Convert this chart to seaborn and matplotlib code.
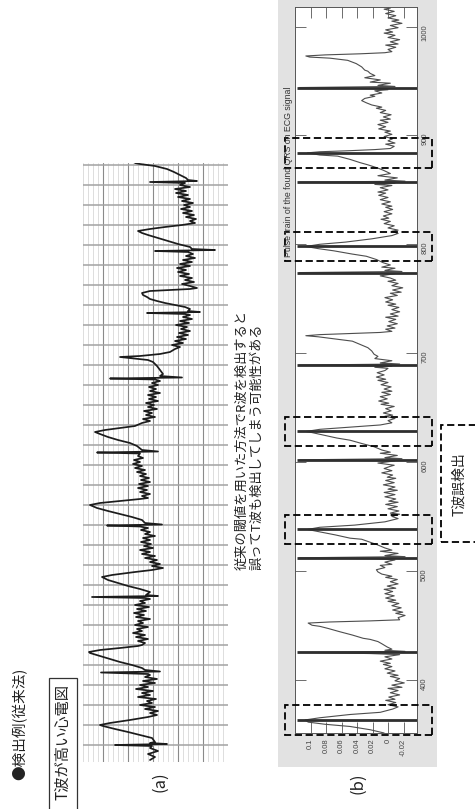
import matplotlib
matplotlib.use("Agg")
import numpy as np
import matplotlib.pyplot as plt
from matplotlib.patches import Rectangle
import seaborn as sns

# ---------------------------------------------------------------------------
# (a) ECG with tall T waves: time [s] and amplitude [mV]
# ---------------------------------------------------------------------------
ecg_a_time_s = [
    0.05, 0.08, 0.11, 0.14, 0.17, 0.19, 0.20, 0.21, 0.22, 0.23,
    0.27, 0.30, 0.33, 0.36, 0.39, 0.40, 0.42, 0.45, 0.48, 0.50,
    0.52, 0.54, 0.56, 0.58, 0.60, 0.62, 0.64, 0.66, 0.68, 0.70,
    0.72, 0.74, 0.76, 0.78, 0.80, 0.82, 0.84, 0.86, 0.88, 0.90,
    0.91, 0.925, 0.935, 0.95, 0.97, 1.00, 1.03, 1.06, 1.09, 1.12,
    1.13, 1.15, 1.17, 1.19, 1.20, 1.22, 1.24, 1.26, 1.28, 1.30,
    1.32, 1.34, 1.36, 1.38, 1.40, 1.42, 1.44, 1.46, 1.48, 1.50,
    1.52, 1.54, 1.56, 1.58, 1.60, 1.62, 1.64, 1.66, 1.67, 1.68,
    1.69, 1.70, 1.73, 1.76, 1.79, 1.82, 1.85, 1.88, 1.90, 1.93,
    1.95, 1.97, 1.99, 2.01, 2.03, 2.05, 2.07, 2.09, 2.11, 2.13,
    2.15, 2.17, 2.19, 2.21, 2.23, 2.25, 2.27, 2.29, 2.31, 2.33,
    2.35, 2.37, 2.385, 2.395, 2.405, 2.42, 2.45, 2.48, 2.51, 2.54,
    2.57, 2.60, 2.62, 2.64, 2.66, 2.67, 2.69, 2.71, 2.73, 2.75,
    2.77, 2.79, 2.81, 2.83, 2.85, 2.87, 2.89, 2.91, 2.93, 2.95,
    2.97, 2.99, 3.01, 3.03, 3.05, 3.07, 3.09, 3.115, 3.125, 3.135,
    3.15, 3.19, 3.22, 3.25, 3.28, 3.31, 3.33, 3.35, 3.37, 3.39,
    3.42, 3.44, 3.46, 3.48, 3.50, 3.52, 3.54, 3.56, 3.58, 3.60,
    3.62, 3.64, 3.66, 3.68, 3.70, 3.72, 3.74, 3.76, 3.78, 3.80,
    3.82, 3.84, 3.855, 3.865, 3.875, 3.89, 3.91, 3.95, 3.99, 4.03,
    4.05, 4.07, 4.08, 4.09, 4.11, 4.13, 4.16, 4.18, 4.20, 4.22,
    4.24, 4.26, 4.28, 4.30, 4.32, 4.34, 4.36, 4.38, 4.40, 4.42,
    4.44, 4.46, 4.48, 4.50, 4.51, 4.52, 4.53, 4.54, 4.56, 4.58,
    4.60, 4.62, 4.64, 4.66, 4.68, 4.70, 4.72, 4.74, 4.75, 4.76,
    4.77, 4.79, 4.81, 4.83, 4.85, 4.87, 4.89, 4.91, 4.93, 4.95,
    4.97, 4.99, 5.01, 5.03, 5.05, 5.07, 5.09, 5.11, 5.13, 5.14,
    5.15, 5.16, 5.18, 5.21, 5.24, 5.27, 5.30, 5.32, 5.34, 5.36,
    5.38, 5.40, 5.42, 5.44, 5.46, 5.48, 5.50, 5.52, 5.54, 5.56,
    5.58, 5.60, 5.62, 5.64, 5.66, 5.68, 5.70, 5.72, 5.74, 5.76,
    5.78, 5.80, 5.82, 5.83, 5.84, 5.85, 5.87, 5.90, 5.93, 5.96,
    5.99, 6.01, 6.02,
]
ecg_a_mv = [
    0.06, -0.04, 0.10, -0.10, 0.06, 0.02, 0.76, -0.28, 0.06, -0.04,
    0.02, 0.26, 0.50, 0.76, 1.00, 1.06, 0.86, 0.46, 0.10, -0.08,
    0.06, -0.10, 0.16, -0.04, 0.26, 0.02, 0.12, -0.06, 0.30, 0.06,
    0.22, 0.00, 0.34, 0.10, 0.26, -0.04, 0.20, -0.08, 0.16, 0.06,
    0.10, 1.04, -0.14, 0.16, 0.22, 0.42, 0.66, 0.86, 1.06, 1.26,
    1.28, 1.06, 0.66, 0.30, 0.22, 0.16, 0.30, 0.10, 0.34, 0.16,
    0.40, 0.22, 0.32, 0.10, 0.36, 0.20, 0.30, 0.06, 0.34, 0.18,
    0.38, 0.14, 0.32, 0.08, 0.36, 0.16, 0.26, 0.06, 0.16, 1.22,
    -0.10, 0.14, 0.06, 0.26, 0.50, 0.70, 0.90, 1.02, 0.82, 0.36,
    0.02, -0.20, 0.02, -0.14, 0.06, -0.08, 0.16, -0.04, 0.22, 0.06,
    0.26, 0.00, 0.18, 0.04, 0.24, 0.06, 0.20, -0.04, 0.16, 0.06,
    0.24, 0.10, 0.26, 0.92, -0.18, 0.16, 0.22, 0.42, 0.66, 0.90,
    1.12, 1.26, 1.06, 0.66, 0.26, 0.10, 0.22, 0.06, 0.26, 0.12,
    0.30, 0.10, 0.28, 0.06, 0.24, 0.08, 0.26, 0.14, 0.32, 0.16,
    0.36, 0.22, 0.40, 0.26, 0.38, 0.20, 0.30, 0.26, 1.12, -0.10,
    0.22, 0.32, 0.46, 0.70, 0.90, 1.06, 1.16, 0.96, 0.66, 0.36,
    0.22, 0.06, 0.20, -0.04, 0.14, 0.02, 0.18, -0.08, 0.10, -0.02,
    0.14, -0.10, 0.08, -0.06, 0.10, -0.14, 0.06, -0.06, 0.08, -0.10,
    0.02, -0.14, -0.04, 0.86, -0.58, -0.14, -0.20, -0.14, -0.08, 0.00,
    0.10, 0.46, 0.66, 0.26, -0.14, -0.34, -0.44, -0.54, -0.38, -0.60,
    -0.44, -0.66, -0.48, -0.70, -0.52, -0.74, -0.56, -0.68, -0.46, -0.72,
    -0.54, -0.78, -0.60, -0.74, -0.64, 0.12, -0.94, -0.70, -0.74, -0.64,
    -0.44, -0.24, -0.08, 0.06, 0.12, 0.20, 0.22, 0.06, -0.34, -0.74,
    -0.88, -0.74, -0.58, -0.82, -0.64, -0.78, -0.54, -0.72, -0.50, -0.66,
    -0.48, -0.74, -0.54, -0.78, -0.60, -0.84, -0.66, -0.80, -0.70, -0.04,
    -1.24, -0.78, -0.74, -0.50, -0.30, -0.10, 0.10, 0.22, 0.30, 0.06,
    -0.24, -0.58, -0.84, -0.74, -0.86, -0.66, -0.82, -0.60, -0.78, -0.56,
    -0.74, -0.62, -0.80, -0.58, -0.74, -0.50, -0.70, -0.46, -0.66, -0.44,
    -0.74, -0.54, -0.64, 0.06, -0.88, -0.70, -0.66, -0.54, -0.42, -0.28,
    -0.04, 0.26, 0.36,
]

# ---------------------------------------------------------------------------
# (b) ECG signal (sample index, amplitude) and the detected pulse train
# ---------------------------------------------------------------------------
ecg_b_sample = [
    351, 354, 357, 359, 361, 363, 365, 368, 370, 373,
    375, 377, 379, 381, 382, 384, 386, 388, 390, 392,
    393, 395, 397, 399, 401, 403, 404, 406, 408, 410,
    412, 414, 415, 417, 419, 421, 423, 424, 425, 426,
    427, 428, 430, 433, 435, 437, 438, 441, 444, 447,
    449, 450, 452, 453, 454, 455, 457, 459, 461, 462,
    464, 466, 468, 470, 472, 473, 475, 477, 479, 481,
    483, 484, 486, 488, 490, 492, 494, 495, 497, 499,
    501, 503, 505, 506, 508, 510, 511, 512, 513, 514,
    516, 518, 519, 521, 524, 527, 529, 530, 533, 536,
    538, 540, 542, 545, 548, 550, 552, 553, 555, 557,
    559, 561, 563, 564, 566, 568, 570, 572, 574, 575,
    577, 579, 581, 583, 585, 586, 588, 590, 592, 594,
    596, 597, 599, 601, 602, 603, 604, 606, 608, 609,
    611, 614, 617, 620, 622, 625, 627, 628, 630, 632,
    634, 636, 638, 640, 642, 643, 645, 647, 649, 651,
    653, 654, 656, 658, 660, 662, 664, 665, 667, 669,
    671, 673, 675, 676, 678, 680, 682, 684, 686, 687,
    688, 689, 690, 691, 693, 695, 697, 699, 702, 705,
    708, 711, 713, 715, 716, 717, 718, 719, 720, 722,
    723, 725, 727, 729, 731, 733, 734, 736, 738, 740,
    742, 744, 745, 747, 749, 751, 753, 755, 756, 758,
    760, 762, 764, 766, 767, 769, 771, 773, 774, 775,
    776, 778, 779, 781, 783, 786, 789, 791, 794, 796,
    798, 800, 802, 805, 808, 810, 812, 813, 815, 817,
    819, 821, 823, 824, 826, 828, 830, 832, 834, 835,
    837, 839, 841, 843, 845, 847, 848, 850, 852, 854,
    855, 856, 857, 858, 859, 861, 863, 865, 868, 870,
    873, 875, 878, 881, 882, 884, 885, 886, 887, 888,
    890, 892, 893, 895, 897, 899, 901, 903, 904, 906,
    908, 910, 912, 914, 915, 917, 919, 921, 923, 925,
    926, 928, 930, 932, 934, 936, 937, 939, 941, 942,
    943, 944, 945, 946, 948, 949, 951, 953, 955, 957,
    959, 960, 963, 966, 969, 971, 972, 973, 974, 975,
    976, 977, 979, 981, 983, 984, 986, 988, 990, 992,
    994, 995, 997, 999, 1001, 1003, 1005, 1006, 1008, 1010,
    1012, 1014, 1016, 1017,
]
ecg_b_amp = [
    0.005, 0.023, 0.049, 0.081, 0.103, 0.107, 0.088, 0.049, 0.010, -0.006,
    -0.013, 0.000, -0.010, 0.003, -0.009, -0.001, -0.015, -0.003, -0.013, 0.000,
    -0.018, -0.005, -0.021, -0.009, -0.015, -0.003, -0.013, 0.001, -0.009, 0.004,
    -0.005, 0.006, -0.003, 0.010, -0.005, 0.004, -0.015, 0.023, 0.114, -0.022,
    0.004, -0.005, 0.001, 0.008, 0.013, 0.023, 0.032, 0.046, 0.062, 0.077,
    0.088, 0.098, 0.103, 0.075, 0.023, -0.015, -0.013, -0.022, -0.010, -0.019,
    -0.006, -0.017, -0.005, -0.014, 0.000, -0.010, 0.003, -0.008, 0.004, -0.006,
    0.005, -0.010, 0.001, -0.013, -0.003, -0.012, 0.003, -0.005, 0.008, 0.013,
    0.015, 0.004, 0.010, -0.005, 0.004, -0.009, 0.017, 0.114, -0.022, 0.004,
    -0.013, 0.010, -0.005, 0.004, 0.014, 0.026, 0.034, 0.049, 0.068, 0.090,
    0.104, 0.088, 0.043, 0.004, -0.013, -0.005, -0.015, -0.003, -0.014, 0.000,
    -0.012, 0.003, -0.013, -0.001, -0.010, 0.004, -0.009, 0.005, -0.012, 0.000,
    -0.009, 0.006, -0.008, 0.003, -0.010, 0.001, -0.006, 0.008, -0.005, 0.005,
    -0.003, -0.008, 0.013, -0.009, 0.114, -0.018, 0.004, -0.012, 0.010, -0.003,
    0.008, 0.018, 0.034, 0.049, 0.066, 0.085, 0.098, 0.106, 0.088, 0.049,
    0.010, -0.005, 0.000, -0.009, 0.004, -0.006, 0.006, -0.004, 0.003, -0.008,
    0.009, -0.001, 0.012, 0.001, 0.010, -0.003, 0.008, -0.005, 0.005, -0.004,
    0.009, 0.000, 0.013, 0.003, 0.015, 0.005, 0.014, 0.004, 0.000, 0.017,
    -0.005, 0.114, -0.015, 0.010, -0.005, 0.017, 0.013, 0.018, 0.021, 0.026,
    0.036, 0.046, 0.068, 0.090, 0.106, 0.088, 0.049, 0.010, -0.005, 0.003,
    -0.009, 0.001, -0.012, -0.001, -0.010, 0.003, -0.013, -0.003, -0.015, -0.005,
    -0.014, 0.000, -0.010, 0.003, -0.006, 0.004, -0.012, -0.003, -0.017, -0.006,
    -0.019, -0.005, -0.013, 0.000, -0.010, -0.003, 0.010, -0.009, 0.114, -0.018,
    0.004, -0.009, 0.008, -0.003, 0.006, 0.015, 0.028, 0.046, 0.070, 0.090,
    0.106, 0.088, 0.055, 0.021, -0.005, -0.013, -0.005, -0.013, 0.000, -0.008,
    0.005, -0.003, 0.009, -0.001, 0.006, -0.005, 0.005, -0.006, 0.003, -0.005,
    0.008, -0.003, 0.010, 0.000, 0.012, 0.003, 0.013, 0.000, 0.010, -0.005,
    0.017, -0.009, 0.114, -0.022, 0.004, -0.012, 0.013, -0.003, 0.006, 0.013,
    0.026, 0.036, 0.049, 0.065, 0.088, 0.104, 0.088, 0.049, 0.017, -0.003,
    -0.008, 0.003, -0.009, 0.000, -0.006, 0.005, -0.005, 0.004, -0.003, 0.012,
    0.003, 0.013, 0.000, 0.010, -0.003, 0.006, -0.004, 0.010, 0.003, 0.015,
    0.008, 0.021, 0.028, 0.034, 0.030, 0.017, 0.023, 0.008, 0.017, 0.000,
    0.021, 0.114, -0.009, 0.013, -0.003, 0.023, 0.010, 0.030, 0.017, 0.023,
    0.026, 0.030, 0.034, 0.041, 0.052, 0.075, 0.101, 0.106, 0.081, 0.036,
    0.004, -0.005, 0.000, -0.010, 0.003, -0.013, -0.003, -0.015, 0.000, -0.009,
    0.005, -0.006, 0.003, -0.013, -0.003, -0.018, -0.005, -0.014, 0.000, -0.010,
    0.003, -0.008, 0.005, -0.003,
]

# detected pulses: true R peaks and T waves taken as R peaks by mistake
r_pulse_samples = [425, 512, 602, 689, 774, 857, 944]
t_pulse_samples = [363, 538, 628, 798, 884]
pulse_level = 0.117

time_ticks = [400, 500, 600, 700, 800, 900, 1000]
amp_ticks = [-0.02, 0.0, 0.02, 0.04, 0.06, 0.08, 0.1]
amp_tick_labels = ["-0.02", "0", "0.02", "0.04", "0.06", "0.08", "0.1"]

# ---------------------------------------------------------------------------
sns.set_theme(style="white")
plt.rcParams["font.family"] = ["Noto Sans CJK JP", "DejaVu Sans"]

W, H = 475, 809
fig = plt.figure(figsize=(W / 100, H / 100), dpi=100)
fig.patch.set_facecolor("white")


def fx(px):
    return px / W


def fy(py):
    return 1 - py / H


# ---------------- panel (a): chart paper ----------------
ax_a = fig.add_axes([fx(83), fy(762), (228 - 83) / W, (762 - 163) / H])
ax_a.set_facecolor("white")
ax_a.set_xlim(1.40, -1.50)
ax_a.set_ylim(0.03, 6.02)
for v in np.arange(-1.5, 1.45, 0.1):
    ax_a.axvline(v, color="#d0d0d0", lw=0.5, zorder=0)
for v in np.arange(-1.0, 1.05, 0.5):
    ax_a.axvline(v, color="#8a8a8a", lw=0.8, zorder=0.5)
for t in np.arange(0.2, 6.01, 0.2):
    ax_a.axhline(t, color="#a2a2a2", lw=1.1, zorder=0.5)
sns.lineplot(x=ecg_a_mv, y=ecg_a_time_s, sort=False, estimator=None,
             color="#1c1c1c", lw=1.25, ax=ax_a, legend=False, zorder=3)
ax_a.set_xlabel("")
ax_a.set_ylabel("")
ax_a.set_xticks([])
ax_a.set_yticks([])
for s in ax_a.spines.values():
    s.set_visible(False)

# ---------------- panel (b): signal with pulse train ----------------
fig.add_artist(Rectangle((fx(278), fy(767)), (437 - 278) / W, 767 / H,
                         transform=fig.transFigure, facecolor="#e2e2e2",
                         edgecolor="none", zorder=0))
ax_b = fig.add_axes([fx(295), fy(733), (417 - 295) / W, (733 - 7) / H])
ax_b.set_facecolor("white")
sns.lineplot(x=ecg_b_amp, y=ecg_b_sample, sort=False, estimator=None,
             color="#4d4d4d", lw=0.8, ax=ax_b, legend=False, zorder=2)
ax_b.hlines(r_pulse_samples + t_pulse_samples, -0.05, pulse_level,
            color="#2f2f2f", lw=2.0, zorder=3)
ax_b.set_xlim(0.120, -0.0374)
ax_b.set_ylim(351, 1018)
ax_b.set_xlabel("")
ax_b.set_ylabel("")
ax_b.set_yticks(time_ticks, [str(t) for t in time_ticks])
ax_b.set_xticks(amp_ticks, amp_tick_labels)
ax_b.yaxis.tick_right()
ax_b.tick_params(axis="y", direction="in", left=True, right=True,
                 labelleft=False, labelright=True, length=8, width=0.6,
                 labelsize=5.5, labelrotation=90, pad=3,
                 color="#555555", labelcolor="#444444")
ax_b.tick_params(axis="x", direction="in", bottom=True, top=True,
                 labelbottom=True, length=8, width=0.6, labelsize=5.5,
                 labelrotation=90, pad=4, color="#555555",
                 labelcolor="#444444")
for lbl in ax_b.get_xticklabels() + ax_b.get_yticklabels():
    lbl.set_fontfamily("Liberation Sans")
for s in ax_b.spines.values():
    s.set_color("#555555")
    s.set_linewidth(0.7)

# dashed frames around the T waves picked up as R waves
for t in t_pulse_samples:
    ax_b.add_patch(Rectangle((-0.057, t - 13.5), 0.19, 27,
                             transform=ax_b.transData, fill=False,
                             edgecolor="black", lw=1.3,
                             linestyle=(0, (4, 2)), clip_on=False, zorder=5))

fig.text(fx(288.5), fy(257), "Pulse train of the found QRS on ECG signal",
         rotation=90, ha="center", va="bottom", fontsize=6.3,
         color="#333333", family="Liberation Sans")

# ---------------- page text ----------------
fig.text(fx(20), fy(780), "●検出例(従来法)", rotation=90, ha="center",
         va="bottom", fontsize=10.5, color="#222222")

fig.add_artist(Rectangle((fx(49), fy(815)), (77 - 49) / W, (815 - 678) / H,
                         transform=fig.transFigure, fill=False,
                         edgecolor="#333333", lw=0.9))
fig.text(fx(63), fy(800), "T波が高い心電図", rotation=90, ha="center",
         va="bottom", fontsize=11, color="#222222")

fig.text(fx(160), fy(782), "(a)", rotation=90, ha="center", va="center",
         fontsize=12, color="#222222")
fig.text(fx(358), fy(783), "(b)", rotation=90, ha="center", va="center",
         fontsize=12, color="#222222")

fig.text(fx(249.5), fy(570),
         "従来の閾値を用いた方法でR波を検出すると\n誤ってT波も検出してしまう可能性がある",
         rotation=90, ha="center", va="bottom", multialignment="left",
         fontsize=9.5, linespacing=1.15, color="#222222")

fig.add_artist(Rectangle((fx(441), fy(542)), (485 - 441) / W, (542 - 425) / H,
                         transform=fig.transFigure, fill=False,
                         edgecolor="black", lw=1.3, linestyle=(0, (4, 2))))
fig.text(fx(459), fy(484), "T波誤検出", rotation=90, ha="center",
         va="center", fontsize=10, color="#222222")

fig.savefig("out.png", dpi=100)
